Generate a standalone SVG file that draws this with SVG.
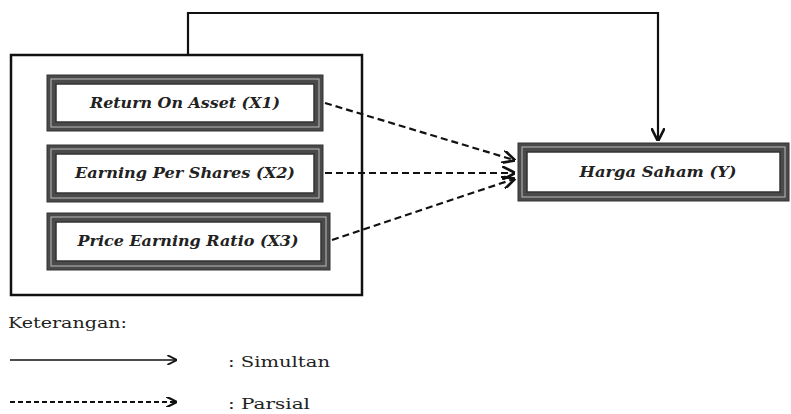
<svg xmlns="http://www.w3.org/2000/svg" width="791" height="414" viewBox="0 0 791 414">
<defs>
<style>
.ob{fill:#4a4a4a;stroke:#333;stroke-width:1}
.mid{fill:none;stroke:#bbb;stroke-width:1}
.in{fill:#fff;stroke:#333;stroke-width:1.5}
.lbl{font-family:"DejaVu Serif","Liberation Serif",serif;font-style:italic;font-weight:bold;font-size:14px;fill:#222;text-anchor:middle}
.leg{font-family:"DejaVu Serif","Liberation Serif",serif;font-size:15px;fill:#222}
.solid{fill:none;stroke:#111;stroke-width:2.2}
.dash{fill:none;stroke:#111;stroke-width:2.2;stroke-dasharray:7,4}
</style>
<marker id="ah" viewBox="0 0 10 10" refX="9" refY="5" markerWidth="6" markerHeight="6" orient="auto" markerUnits="strokeWidth">
<path d="M0,0 L10,5 L0,10" fill="none" stroke="#111" stroke-width="2"/>
</marker>
</defs>
<rect width="791" height="414" fill="#fff"/>
<g id="outer-box"><rect x="11" y="55" width="351" height="240" fill="none" stroke="#111" stroke-width="2.5"/></g>
<g id="x1">
<rect class="ob" x="47" y="75" width="276" height="56"/>
<rect class="mid" x="51" y="79" width="268" height="48"/>
<rect class="in" x="56" y="84" width="258" height="38"/>
<text class="lbl" x="185" y="108" textLength="190" lengthAdjust="spacingAndGlyphs">Return On Asset (X1)</text>
</g>
<g id="x2">
<rect class="ob" x="47" y="145" width="276" height="57"/>
<rect class="mid" x="51" y="149" width="268" height="49"/>
<rect class="in" x="56" y="154" width="258" height="39"/>
<text class="lbl" x="185" y="178" textLength="220" lengthAdjust="spacingAndGlyphs">Earning Per Shares (X2)</text>
</g>
<g id="x3">
<rect class="ob" x="47" y="213" width="283" height="57"/>
<rect class="mid" x="51" y="217" width="275" height="49"/>
<rect class="in" x="56" y="222" width="265" height="39"/>
<text class="lbl" x="188" y="246" textLength="221" lengthAdjust="spacingAndGlyphs">Price Earning Ratio (X3)</text>
</g>
<g id="y">
<rect class="ob" x="518" y="143" width="271" height="58"/>
<rect class="mid" x="522" y="147" width="263" height="50"/>
<rect class="in" x="527" y="152" width="253" height="40"/>
<text class="lbl" x="658" y="177" textLength="157" lengthAdjust="spacingAndGlyphs">Harga Saham (Y)</text>
</g>
<g id="connectors">
<path class="solid" d="M188,55 V13 H658 V140" marker-end="url(#ah)"/>
<path class="dash" d="M325,103 L514,160" marker-end="url(#ah)"/>
<path class="dash" d="M325,173 L514,173" marker-end="url(#ah)"/>
<path class="dash" d="M332,240 L514,179" marker-end="url(#ah)"/>
</g>
<g id="legend">
<text class="leg" x="8" y="328" textLength="119" lengthAdjust="spacingAndGlyphs">Keterangan:</text>
<path class="solid" d="M10,360 H176" marker-end="url(#ah)" style="stroke-width:1.6"/>
<text class="leg" x="228" y="367" textLength="102" lengthAdjust="spacingAndGlyphs">: Simultan</text>
<path class="dash" d="M10,402 H176" marker-end="url(#ah)" style="stroke-width:1.8;stroke-dasharray:5,3"/>
<text class="leg" x="228" y="409" textLength="82" lengthAdjust="spacingAndGlyphs">: Parsial</text>
</g>
</svg>
